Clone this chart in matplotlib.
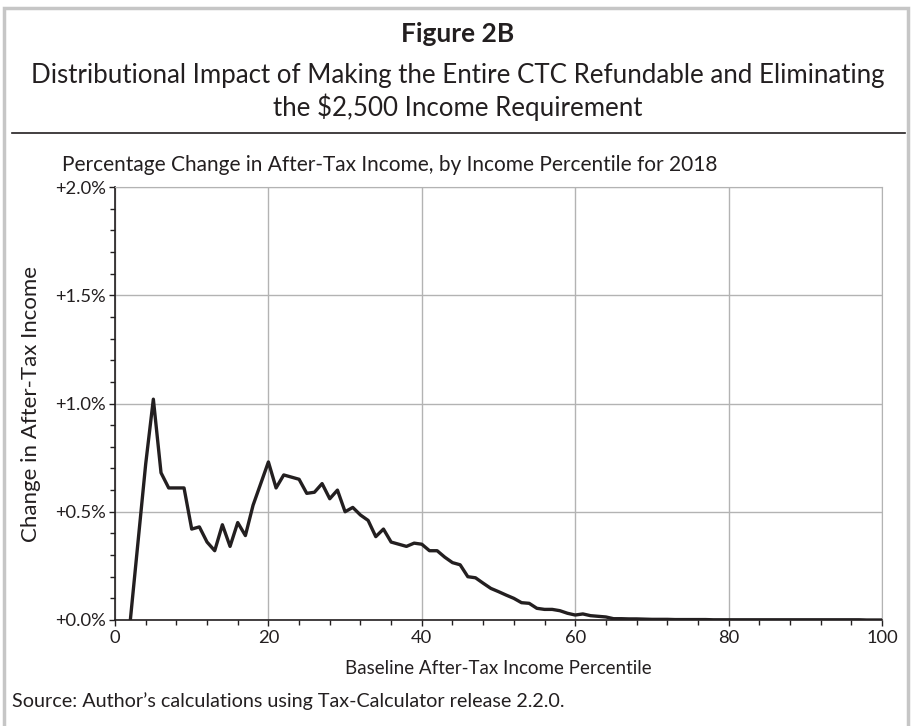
import matplotlib
matplotlib.use("Agg")
import matplotlib.pyplot as plt
from matplotlib.patches import Rectangle
from matplotlib.lines import Line2D
from matplotlib.ticker import MultipleLocator, FuncFormatter

# percentile (x) and percentage change in after-tax income (y)
percentile = list(range(2, 101))
pct_change = [
    0.00, 0.36, 0.72, 1.02, 0.68, 0.61, 0.61, 0.61, 0.42, 0.43,
    0.36, 0.32, 0.44, 0.34, 0.45, 0.39, 0.53, 0.63, 0.73, 0.61,
    0.67, 0.66, 0.65, 0.585, 0.59, 0.63, 0.56, 0.60, 0.50, 0.52,
    0.485, 0.46, 0.385, 0.42, 0.36, 0.35, 0.34, 0.355, 0.35, 0.32,
    0.32, 0.29, 0.265, 0.255, 0.20, 0.195, 0.17, 0.146, 0.131, 0.115,
    0.10, 0.08, 0.077, 0.054, 0.049, 0.049, 0.043, 0.031, 0.023, 0.028,
    0.020, 0.017, 0.014, 0.006, 0.006, 0.005, 0.005, 0.004, 0.003, 0.003,
    0.003, 0.002, 0.002, 0.002, 0.002, 0.002, 0.001, 0.001, 0.001, 0.001,
    0.001, 0.001, 0.001, 0.001, 0.001, 0.001, 0.001, 0.001, 0.001, 0.001,
    0.001, 0.001, 0.001, 0.001, 0.001, 0.001, 0.000, 0.000, 0.000,
]

plt.rcParams['font.family'] = ['Lato', 'DejaVu Sans']

fig = plt.figure(figsize=(9.15, 7.26), dpi=100)
ax = fig.add_axes([115 / 915, 106 / 726, 767 / 915, 433 / 726])

ax.plot(percentile, pct_change, color='#231f20', lw=2.4, zorder=3)

ax.set_xlim(0, 100)
ax.set_ylim(0, 2.0)
ax.xaxis.set_major_locator(MultipleLocator(20))
ax.xaxis.set_minor_locator(MultipleLocator(4))
ax.yaxis.set_major_locator(MultipleLocator(0.5))
ax.yaxis.set_minor_locator(MultipleLocator(0.1))
ax.yaxis.set_major_formatter(FuncFormatter(lambda v, p: '+%.1f%%' % v))
ax.grid(True, which='major', color='#b3b3b3', lw=1.0)
ax.tick_params(which='major', direction='out', length=4.5, width=1.0,
               labelsize=13.2, color='#231f20', labelcolor='#231f20')
ax.tick_params(which='minor', direction='out', length=3.5, width=1.0, color='#231f20')
ax.tick_params(axis='y', which='both', pad=2)
ax.tick_params(axis='x', which='both', pad=3)
for s in ['top', 'right']:
    ax.spines[s].set_color('#b3b3b3')
for s in ['left', 'bottom']:
    ax.spines[s].set_color('#231f20')
    ax.spines[s].set_linewidth(1.2)

ax.set_xlabel('Baseline After-Tax Income Percentile', fontsize=13.5, color='#231f20', labelpad=10)
ax.set_ylabel('Change in After-Tax Income', fontsize=16, color='#231f20', labelpad=10)

fig.text(0.5, 1 - 34 / 726, 'Figure 2B', ha='center', va='center',
         fontsize=19, fontweight='bold', color='#231f20')
fig.text(0.5, 1 - 75 / 726, 'Distributional Impact of Making the Entire CTC Refundable and Eliminating',
         ha='center', va='center', fontsize=18.6, color='#231f20')
fig.text(0.5, 1 - 107 / 726, 'the $2,500 Income Requirement',
         ha='center', va='center', fontsize=18.6, color='#231f20')
fig.text(62 / 915, 1 - 165 / 726,
         'Percentage Change in After-Tax Income, by Income Percentile for 2018',
         ha='left', va='center', fontsize=15, color='#231f20')
fig.text(12 / 915, 1 - 701 / 726,
         'Source: Author\u2019s calculations using Tax-Calculator release 2.2.0.',
         ha='left', va='center', fontsize=14.2, color='#231f20')

fig.add_artist(Line2D([12 / 915, 905 / 915], [1 - 133 / 726, 1 - 133 / 726],
                      color='#231f20', lw=1.2))
fig.add_artist(Rectangle((4 / 915, -0.01), 904 / 915, 1 - 8 / 726 + 0.01,
                         fill=False, edgecolor='#c6c6c6', lw=2.5))

fig.savefig('out.png', dpi=100)
